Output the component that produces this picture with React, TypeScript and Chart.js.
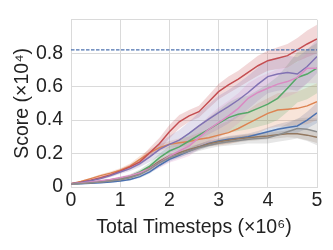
import { useEffect, useRef } from 'react';
import { Chart, registerables } from 'chart.js';

Chart.register(...registerables);

const timesteps = [0, 0.2, 0.4, 0.6, 0.8, 1.0, 1.2, 1.4, 1.6, 1.8, 2.0, 2.2, 2.4, 2.6, 2.8, 3.0, 3.2, 3.4, 3.6, 3.8, 4.0, 4.2, 4.4, 4.6, 4.8, 5.0];
const xTicks = [0, 1, 2, 3, 4, 5];
const yTicks = [0, 0.2, 0.4, 0.6, 0.8];
const referenceScore = 0.82;

const blueMean = [0.018, 0.02, 0.023, 0.026, 0.03, 0.036, 0.045, 0.062, 0.09, 0.13, 0.165, 0.19, 0.215, 0.24, 0.26, 0.275, 0.285, 0.292, 0.3, 0.315, 0.33, 0.345, 0.355, 0.365, 0.4, 0.443];
const blueSpread = [0.002, 0.002, 0.003, 0.003, 0.004, 0.005, 0.006, 0.008, 0.01, 0.012, 0.014, 0.015, 0.016, 0.017, 0.018, 0.018, 0.02, 0.02, 0.02, 0.02, 0.025, 0.03, 0.035, 0.04, 0.05, 0.06];
const orangeMean = [0.02, 0.033, 0.05, 0.068, 0.083, 0.1, 0.125, 0.165, 0.205, 0.235, 0.255, 0.265, 0.272, 0.285, 0.295, 0.31, 0.325, 0.35, 0.38, 0.41, 0.44, 0.46, 0.465, 0.47, 0.485, 0.51];
const orangeSpread = [0.003, 0.004, 0.006, 0.008, 0.01, 0.012, 0.015, 0.02, 0.02, 0.02, 0.02, 0.025, 0.03, 0.04, 0.05, 0.06, 0.07, 0.08, 0.08, 0.09, 0.09, 0.1, 0.1, 0.1, 0.11, 0.11];
const greenMean = [0.02, 0.023, 0.028, 0.034, 0.042, 0.052, 0.065, 0.09, 0.125, 0.175, 0.215, 0.24, 0.275, 0.31, 0.345, 0.38, 0.415, 0.435, 0.445, 0.47, 0.495, 0.53, 0.59, 0.655, 0.675, 0.71];
const greenSpread = [0.003, 0.003, 0.004, 0.005, 0.006, 0.008, 0.01, 0.015, 0.02, 0.025, 0.03, 0.04, 0.05, 0.06, 0.07, 0.08, 0.09, 0.1, 0.1, 0.11, 0.12, 0.13, 0.14, 0.15, 0.15, 0.15];
const redMean = [0.02, 0.028, 0.04, 0.055, 0.072, 0.095, 0.12, 0.15, 0.205, 0.26, 0.33, 0.39, 0.425, 0.45, 0.51, 0.57, 0.61, 0.645, 0.685, 0.725, 0.755, 0.77, 0.785, 0.82, 0.855, 0.885];
const redSpread = [0.003, 0.004, 0.006, 0.008, 0.01, 0.012, 0.015, 0.02, 0.03, 0.035, 0.04, 0.04, 0.035, 0.035, 0.04, 0.045, 0.05, 0.05, 0.055, 0.06, 0.06, 0.065, 0.07, 0.07, 0.08, 0.085];
const purpleMean = [0.02, 0.027, 0.037, 0.05, 0.068, 0.09, 0.11, 0.14, 0.18, 0.225, 0.255, 0.28, 0.32, 0.365, 0.405, 0.445, 0.48, 0.52, 0.565, 0.615, 0.66, 0.675, 0.685, 0.675, 0.72, 0.78];
const purpleSpread = [0.003, 0.004, 0.005, 0.007, 0.009, 0.012, 0.015, 0.02, 0.03, 0.04, 0.05, 0.06, 0.07, 0.08, 0.09, 0.1, 0.1, 0.1, 0.1, 0.1, 0.1, 0.1, 0.1, 0.1, 0.1, 0.1];
const brownMean = [0.02, 0.022, 0.026, 0.031, 0.037, 0.045, 0.058, 0.08, 0.115, 0.155, 0.185, 0.205, 0.225, 0.24, 0.258, 0.27, 0.28, 0.288, 0.295, 0.3, 0.305, 0.312, 0.318, 0.318, 0.31, 0.298];
const brownSpread = [0.002, 0.002, 0.003, 0.003, 0.004, 0.005, 0.006, 0.008, 0.01, 0.012, 0.014, 0.015, 0.016, 0.017, 0.018, 0.018, 0.02, 0.02, 0.02, 0.02, 0.02, 0.02, 0.02, 0.025, 0.03, 0.035];
const pinkMean = [0.02, 0.024, 0.03, 0.037, 0.045, 0.055, 0.068, 0.085, 0.11, 0.145, 0.185, 0.215, 0.245, 0.295, 0.345, 0.385, 0.425, 0.47, 0.53, 0.565, 0.59, 0.615, 0.63, 0.655, 0.71, 0.71];
const pinkSpread = [0.003, 0.003, 0.004, 0.005, 0.006, 0.008, 0.01, 0.015, 0.02, 0.03, 0.04, 0.05, 0.06, 0.07, 0.08, 0.09, 0.09, 0.09, 0.09, 0.09, 0.09, 0.09, 0.09, 0.09, 0.09, 0.09];
const grayMean = [0.018, 0.021, 0.025, 0.03, 0.036, 0.044, 0.055, 0.075, 0.105, 0.145, 0.175, 0.195, 0.215, 0.235, 0.25, 0.262, 0.27, 0.278, 0.285, 0.29, 0.295, 0.31, 0.33, 0.35, 0.345, 0.33];
const graySpread = [0.002, 0.002, 0.003, 0.003, 0.004, 0.005, 0.006, 0.008, 0.01, 0.012, 0.015, 0.017, 0.018, 0.02, 0.02, 0.02, 0.022, 0.025, 0.025, 0.03, 0.035, 0.04, 0.05, 0.06, 0.07, 0.08];

const series = [
  { mean: blueMean, spread: blueSpread, rgb: [76, 114, 176] },
  { mean: orangeMean, spread: orangeSpread, rgb: [221, 132, 82] },
  { mean: greenMean, spread: greenSpread, rgb: [85, 168, 104] },
  { mean: redMean, spread: redSpread, rgb: [196, 78, 82] },
  { mean: purpleMean, spread: purpleSpread, rgb: [129, 114, 179] },
  { mean: brownMean, spread: brownSpread, rgb: [147, 120, 96] },
  { mean: pinkMean, spread: pinkSpread, rgb: [218, 139, 195] },
  { mean: grayMean, spread: graySpread, rgb: [140, 140, 140] },
];

const FONT = { family: '"Liberation Sans", Arial, sans-serif', size: 19.5 };
const TEXT = '#222222';
const GRID = '#dadada';

export default function App() {
  const ref = useRef<HTMLCanvasElement>(null);

  useEffect(() => {
    const datasets: any[] = [];
    const n = series.length;
    datasets.push({
      data: [
        { x: timesteps[0], y: referenceScore },
        { x: timesteps[timesteps.length - 1], y: referenceScore },
      ],
      borderColor: 'rgb(76,114,176)',
      borderWidth: 1.2,
      borderDash: [3.5, 1.5],
      pointRadius: 0,
      fill: false,
      order: 0,
    });
    for (let i = n - 1; i >= 0; i--) {
      const s = series[i];
      datasets.push({
        data: timesteps.map((x, k) => ({ x, y: s.mean[k] })),
        borderColor: `rgb(${s.rgb.join(',')})`,
        borderWidth: 1.5,
        pointRadius: 0,
        fill: false,
        tension: 0,
        order: 0,
      });
    }
    for (let i = n - 1; i >= 0; i--) {
      const s = series[i];
      const idx = datasets.length;
      datasets.push({
        data: timesteps.map((x, k) => ({ x, y: s.mean[k] + s.spread[k] })),
        borderWidth: 0,
        borderColor: 'rgba(0,0,0,0)',
        pointRadius: 0,
        fill: { target: idx + 1 },
        backgroundColor: `rgba(${s.rgb.join(',')},0.22)`,
        order: 1,
      });
      datasets.push({
        data: timesteps.map((x, k) => ({ x, y: s.mean[k] - s.spread[k] })),
        borderWidth: 0,
        borderColor: 'rgba(0,0,0,0)',
        pointRadius: 0,
        fill: false,
        order: 1,
      });
    }

    const chart = new Chart(ref.current!, {
      type: 'line',
      data: { datasets },
      options: {
        animation: false,
        responsive: false,
        devicePixelRatio: 1,
        layout: { padding: { top: 9, right: 16, left: 0, bottom: 0 } },
        plugins: { legend: { display: false }, tooltip: { enabled: false } },
        scales: {
          x: {
            type: 'linear',
            min: xTicks[0],
            max: xTicks[xTicks.length - 1],
            afterBuildTicks: (scale: any) => {
              scale.ticks = xTicks.map((v) => ({ value: v }));
            },
            afterFit: (scale: any) => {
              scale.height = 63;
            },
            ticks: {
              color: TEXT,
              font: FONT,
              padding: 2,
              maxRotation: 0,
              autoSkip: false,
              callback: (v: any) => String(v),
            },
            grid: { color: GRID, lineWidth: 1, drawTicks: false },
            border: { color: GRID },
            title: {
              display: true,
              text: 'Total Timesteps (×10⁶)',
              color: TEXT,
              font: FONT,
              padding: { top: 0, bottom: 11 },
            },
          },
          y: {
            type: 'linear',
            min: 0,
            max: 1,
            afterBuildTicks: (scale: any) => {
              scale.ticks = [...yTicks, 1].map((v) => ({ value: v }));
            },
            afterFit: (scale: any) => {
              scale.width = 71;
            },
            ticks: {
              color: TEXT,
              font: FONT,
              padding: 8,
              autoSkip: false,
              callback: (v: any) => (v === 0 ? '0' : v >= 0.99 ? '' : Number(v).toFixed(1)),
            },
            grid: { color: GRID, lineWidth: 1, drawTicks: false },
            border: { color: GRID },
            title: {
              display: true,
              text: 'Score (×10⁴)',
              color: TEXT,
              font: FONT,
              padding: { top: 11, bottom: 0 },
            },
          },
        },
      },
    });
    return () => chart.destroy();
  }, []);

  return (
    <div style={{ position: 'fixed', left: 0, top: 0, width: 333, height: 250, background: '#fff' }}>
      <canvas ref={ref} width={333} height={250} style={{ display: 'block', width: 333, height: 250 }} />
    </div>
  );
}
